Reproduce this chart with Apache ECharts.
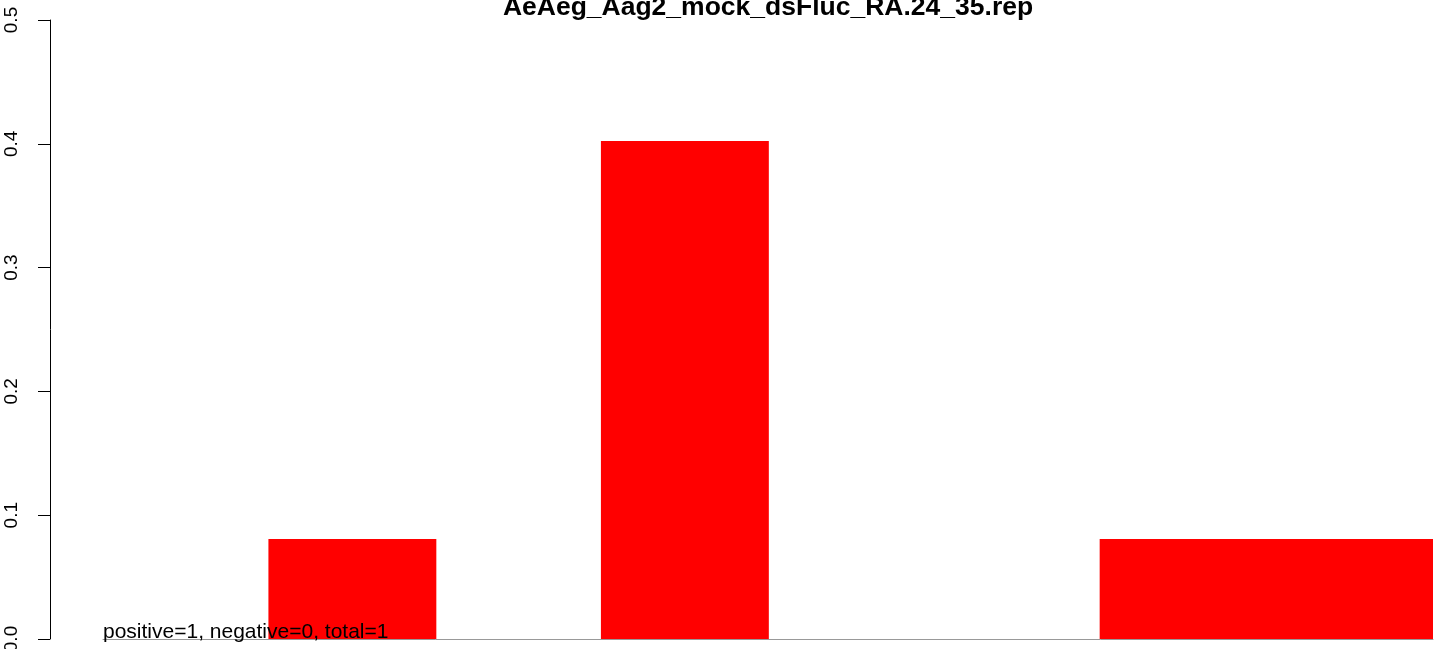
<!DOCTYPE html>
<html>
  <head>
    <meta charset="utf-8">
    <title></title>
    <style>
      html, body{ margin: 0; padding: 0; background: #fff; }
      #wrap{ width: 1444px; height: 649px; }
    </style>
    <script src="https://cdn.jsdelivr.net/npm/echarts@6/dist/echarts.min.js" charset="utf-8"></script>
  </head>
  <body>
    <div id="wrap"></div>
    <script>
      // values
      var categories = ['1', '2', '3', '4', '5', '6', '7', '8'];
      var values = [0, 0.0808, 0, 0.4023, 0, 0, 0.0808, 0.0808];
      var yTicks = [0, 0.1, 0.2, 0.3, 0.4, 0.5];
      var titleText = 'AeAeg_Aag2_mock_dsFluc_RA.24_35.rep';
      var noteText = 'positive=1, negative=0, total=1';

      var font = '"Liberation Sans", Arial, Helvetica, sans-serif';
      var chart = echarts.init(document.getElementById('wrap'));

      var option = {
        animation: false,
        backgroundColor: '#fff',
        grid: { left: 103, right: 11, top: 20, bottom: 10, outerBoundsMode: 'none', containLabel: false },
        xAxis: {
          type: 'category',
          data: categories,
          axisLine: { show: true, lineStyle: { color: '#999', width: 1 } },
          axisTick: { show: false },
          axisLabel: { show: false },
          splitLine: { show: false }
        },
        yAxis: {
          type: 'value',
          min: yTicks[0],
          max: yTicks[yTicks.length - 1],
          interval: 0.1,
          offset: 53,
          axisLine: { show: true, lineStyle: { color: '#000', width: 1 } },
          axisTick: { show: true, length: 12, lineStyle: { color: '#000' } },
          axisLabel: {
            rotate: 90,
            margin: 29,
            fontSize: 19,
            fontFamily: font,
            color: '#000',
            formatter: function (v) { return v.toFixed(1); }
          },
          splitLine: { show: false }
        },
        series: [{
          type: 'bar',
          data: values,
          // slightly wider than the band so touching bars have no seam
          barWidth: '101%',
          itemStyle: { color: '#ff0000' },
          silent: true
        }],
        graphic: [
          {
            type: 'text',
            x: 768, y: 8,
            style: {
              text: titleText,
              font: 'bold 26.5px ' + font,
              fill: '#000',
              align: 'center',
              verticalAlign: 'middle'
            }
          },
          {
            type: 'text',
            x: 103, y: 632,
            z: 100,
            style: {
              text: noteText,
              font: '21px ' + font,
              fill: '#000',
              align: 'left',
              verticalAlign: 'middle'
            }
          }
        ]
      };
      chart.setOption(option);
    </script>
  </body>
</html>
